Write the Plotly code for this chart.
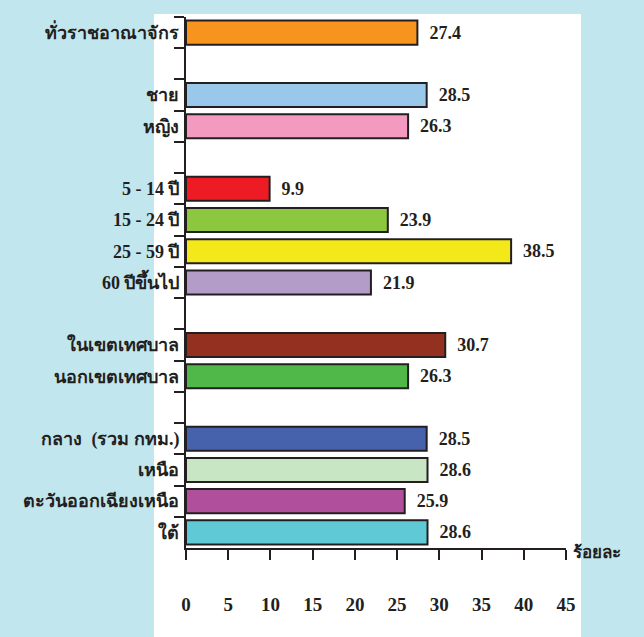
import plotly.graph_objects as go

# ---- data ----
categories = [
    "ทั่วราชอาณาจักร", "\u200b",
    "ชาย", "หญิง", "\u200b\u200b",
    "5 - 14 ปี", "15 - 24 ปี", "25 - 59 ปี", "60 ปีขึ้นไป", "\u200b\u200b\u200b",
    "ในเขตเทศบาล", "นอกเขตเทศบาล", "\u200b\u200b\u200b\u200b",
    "กลาง  (รวม กทม.)", "เหนือ", "ตะวันออกเฉียงเหนือ", "ใต้",
]
values = [27.4, None, 28.5, 26.3, None, 9.9, 23.9, 38.5, 21.9, None,
          30.7, 26.3, None, 28.5, 28.6, 25.9, 28.6]
bar_colors = ["#f7941d", "#ffffff", "#9ac8ea", "#f49ac1", "#ffffff",
              "#ed1c24", "#8dc63f", "#f2e81a", "#b49cc8", "#ffffff",
              "#93301f", "#50b848", "#ffffff",
              "#4662ad", "#c8e6c4", "#b0509c", "#5fcad6"]
x_ticks = [0, 5, 10, 15, 20, 25, 30, 35, 40, 45]
x_unit = "ร้อยละ"

W, H = 644, 637
L, R, T, B = 186, 78, 17, 89
pw = W - L - R
ph = H - T - B

serif = "Liberation Serif, Times New Roman, serif"

labels = ["" if v is None else "\u00a0\u00a0%.1f" % v for v in values]

fig = go.Figure(go.Bar(
    y=categories, x=values, orientation="h",
    marker=dict(color=bar_colors, line=dict(color="#231f20", width=2)),
    text=labels, textposition="outside", cliponaxis=False,
    textfont=dict(family=serif, size=18, color="#231f20", weight="bold"),
    hoverinfo="skip",
))

fig.update_layout(
    width=W, height=H,
    margin=dict(l=L, r=R, t=T, b=B, pad=0, autoexpand=False),
    paper_bgcolor="#c2e6ee",
    plot_bgcolor="#ffffff",
    bargap=0.23,
    showlegend=False,
    font=dict(family=serif, color="#231f20"),
)

fig.update_yaxes(
    type="category", categoryorder="array", categoryarray=categories,
    autorange="reversed", tickson="boundaries", automargin=False,
    showline=True, linecolor="#231f20", linewidth=2,
    ticks="outside", ticklen=10, tickwidth=2, tickcolor="#231f20",
    showgrid=False, zeroline=False,
    tickfont=dict(family=serif, size=18, color="#231f20", weight="bold"),
    ticklabelstandoff=1,
)

fig.update_xaxes(
    range=[0, 45], tickvals=x_ticks, ticktext=[str(t) for t in x_ticks],
    automargin=False,
    showline=True, linecolor="#231f20", linewidth=2,
    ticks="outside", ticklen=10, tickwidth=2, tickcolor="#231f20",
    showgrid=False, zeroline=False,
    tickfont=dict(family=serif, size=19, color="#231f20", weight="bold"),
    ticklabelstandoff=28,
)

# white panel behind the chart
fig.add_shape(
    type="rect", xref="paper", yref="paper", layer="below",
    x0=(154 - L) / pw, x1=(581 - L) / pw,
    y0=-(H - T - ph) / ph - 0.01, y1=(ph + T - 14) / ph,
    fillcolor="#ffffff", line=dict(width=0),
)

fig.add_annotation(
    text=x_unit, xref="paper", yref="paper",
    x=(571 - L) / pw, y=-4 / ph, xanchor="left", yanchor="middle",
    showarrow=False,
    font=dict(family=serif, size=17, color="#231f20", weight="bold"),
)

fig.write_html(
    "out.html",
    config={"displayModeBar": False, "staticPlot": True},
    post_script="document.body.style.margin='0';document.body.style.overflow='hidden';",
)
